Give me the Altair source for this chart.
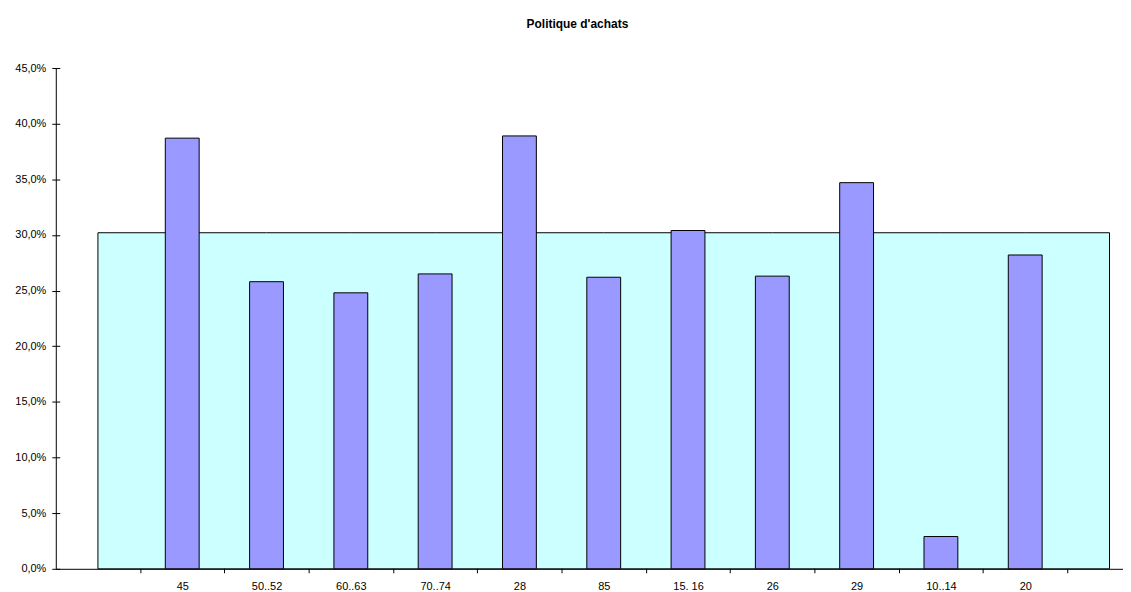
import altair as alt
import pandas as pd

# ---- data ----
categories = ["", "45", "50..52", "60..63", "70..74", "28", "85", "15. 16", "26", "29", "10..14", "20", ""]
bar_values = [38.7, 25.8, 24.8, 26.5, 38.9, 26.2, 30.4, 26.3, 34.7, 2.9, 28.2]   # percent
area_values = [30.2] * 13                                                        # percent
y_ticks = [0, 5, 10, 15, 20, 25, 30, 35, 40, 45]

df_bars = pd.DataFrame({
    "idx": list(range(1, 12)),
    "cat": categories[1:12],
    "value": [v / 100 for v in bar_values],
})
df_area = pd.DataFrame({
    "idx": list(range(13)),
    "value": [v / 100 for v in area_values],
})

FONT = "Liberation Sans"
label_array = "[" + ",".join("'" + c + "'" for c in categories) + "]"

xscale = alt.Scale(domain=[-0.5, 12.16], nice=False, zero=False, padding=0)
yscale = alt.Scale(domain=[0, 0.45], nice=False, zero=True, padding=0)

# axes: one for labels + domain, one for crossing ticks
x_label_axis = alt.Axis(
    orient="bottom", values=list(range(13)), labelExpr=label_array + "[round(datum.value)]",
    ticks=False, tickSize=0, grid=False, domain=True, domainColor="black", domainWidth=1,
    labelPadding=12, labelFont=FONT, labelFontSize=11, labelColor="black", title=None,
    labelFlush=False, labelOverlap=False,
)
x_tick_axis = alt.Axis(
    orient="bottom", values=[i + 0.5 for i in range(12)], labels=False, domain=False,
    ticks=True, tickSize=8, tickColor="black", tickWidth=1, offset=-4, grid=False, title=None,
)
y_label_axis = alt.Axis(
    orient="left", values=[t / 100 for t in y_ticks],
    labelExpr="replace(format(datum.value*100, '.1f'), '.', ',') + '%'",
    ticks=False, tickSize=0, grid=False, domain=True, domainColor="black", domainWidth=1,
    labelPadding=10, labelFont=FONT, labelFontSize=11, labelColor="black", title=None,
    labelFlush=False, labelOverlap=False,
)
y_tick_axis = alt.Axis(
    orient="left", values=[t / 100 for t in y_ticks], labels=False, domain=False,
    ticks=True, tickSize=8, tickColor="black", tickWidth=1, offset=-4, grid=False, title=None,
)

area = alt.Chart(df_area).mark_area(
    color="#CCFFFF", stroke="black", strokeWidth=1, opacity=1
).encode(
    x=alt.X("idx:Q", scale=xscale, axis=x_tick_axis),
    y=alt.Y("value:Q", scale=yscale, axis=y_tick_axis),
)

bars = alt.Chart(df_bars).mark_bar(
    size=34, color="#9999FF", stroke="black", strokeWidth=1, opacity=1
).encode(
    x=alt.X("idx:Q", scale=xscale, axis=x_label_axis),
    y=alt.Y("value:Q", scale=yscale, axis=y_label_axis),
)

chart = alt.layer(area, bars).resolve_axis(x="independent", y="independent").properties(
    width=1072,
    height=503,
    autosize=alt.AutoSizeParams(type="none"),
    padding={"left": 48, "top": 59, "right": 0, "bottom": 24},
    title=alt.TitleParams(
        "Politique d'achats", font=FONT, fontSize=12, fontWeight="bold", color="black",
        anchor="middle", dx=-12, offset=31,
    ),
).configure(background="white").configure_view(strokeWidth=0)

chart.save("out.html", embed_options={"renderer": "svg", "actions": False})
